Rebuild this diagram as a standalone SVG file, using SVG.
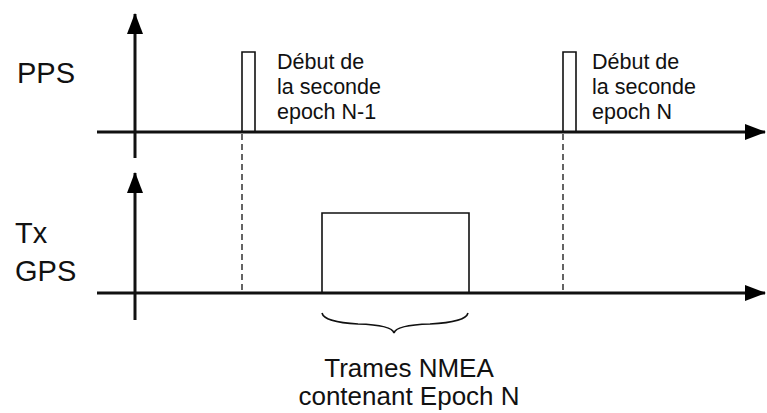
<svg xmlns="http://www.w3.org/2000/svg" width="767" height="413" viewBox="0 0 767 413">
<style>
.ax{stroke:#111;stroke-width:3;fill:none}
.pl{stroke:#111;stroke-width:1.6;fill:none}
.dash{stroke:#111;stroke-width:1.3;stroke-dasharray:6,4;fill:none}
.lbl{font-family:"Liberation Sans",Arial,sans-serif;fill:#111}
</style>
<defs>
<marker id="ah" markerUnits="userSpaceOnUse" markerWidth="22" markerHeight="18" refX="20" refY="8" orient="auto">
<path d="M0,0 L21,8 L0,16 Z" fill="#000"/>
</marker>
</defs>
<rect width="767" height="413" fill="#fff"/>
<g id="connectors">
<line class="ax" x1="135" y1="158" x2="135" y2="14" marker-end="url(#ah)"/>
<line class="ax" x1="97" y1="132" x2="765" y2="132" marker-end="url(#ah)"/>
<line class="ax" x1="135" y1="320" x2="135" y2="173" marker-end="url(#ah)"/>
<line class="ax" x1="97" y1="293" x2="765" y2="293" marker-end="url(#ah)"/>
<line class="dash" x1="242" y1="134" x2="242" y2="292"/>
<line class="dash" x1="563" y1="134" x2="563" y2="292"/>
</g>
<g id="pulse1"><polyline class="pl" points="242,132 242,52 255,52 255,132"/></g>
<g id="pulse2"><polyline class="pl" points="563,132 563,52 576,52 576,132"/></g>
<g id="nmea-box"><polyline class="pl" points="322,293 322,213 469,213 469,293"/></g>
<g id="brace"><path class="pl" d="M322,313 Q324,322 358,324 Q392,325 394,333 Q396,325 430,324 Q466,322 468,313"/></g>
<g id="label-pps"><text class="lbl" x="17" y="83" font-size="29">PPS</text></g>
<g id="label-tx"><text class="lbl" x="15" y="243" font-size="29">Tx</text><text class="lbl" x="15" y="281" font-size="29">GPS</text></g>
<g id="label-n1" font-size="21.5"><text class="lbl" x="277" y="69">Début de</text><text class="lbl" x="277" y="94">la seconde</text><text class="lbl" x="277" y="119">epoch N-1</text></g>
<g id="label-n" font-size="21.5"><text class="lbl" x="592" y="69">Début de</text><text class="lbl" x="592" y="94">la seconde</text><text class="lbl" x="592" y="119">epoch N</text></g>
<g id="label-nmea" font-size="26" text-anchor="middle"><text class="lbl" x="409" y="377">Trames NMEA</text><text class="lbl" x="409" y="405">contenant Epoch N</text></g>
</svg>
